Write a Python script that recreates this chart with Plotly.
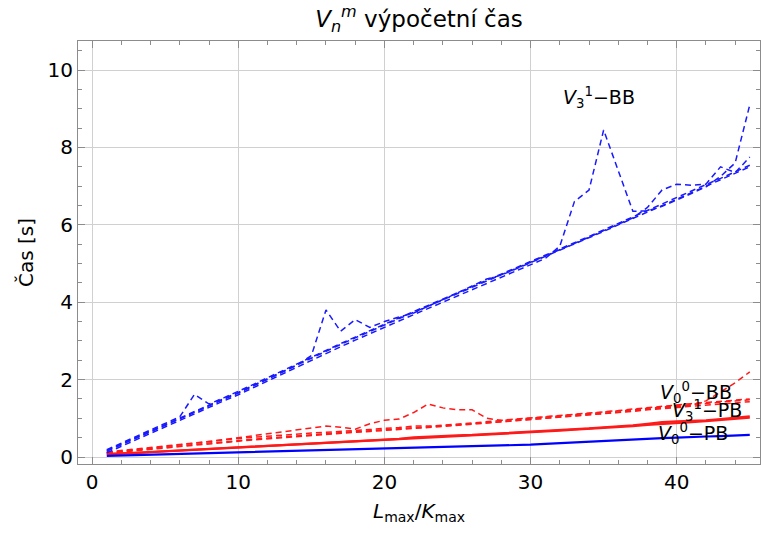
import plotly.graph_objects as go

x = list(range(1, 46))

# Blue dashed series (BB variants)
blue_d1 = [0.19, 0.36, 0.53, 0.70, 0.87, 1.04, 1.62, 1.37, 1.53, 1.69, 1.87, 2.05, 2.23, 2.41, 2.59,
           2.76, 2.93, 3.10, 3.27, 3.44, 3.60, 3.76, 3.92, 4.08, 4.24, 4.40, 4.56, 4.72, 4.88, 5.04,
           5.21, 5.37, 5.54, 5.70, 5.87, 6.04, 6.20, 6.37, 6.54, 6.70, 6.87, 7.04, 7.20, 7.37, 7.54]
blue_d2 = [0.15, 0.32, 0.49, 0.66, 0.83, 1.00, 1.16, 1.33, 1.49, 1.65, 1.83, 2.01, 2.19, 2.37, 2.62,
           3.80, 3.25, 3.55, 3.35, 3.50, 3.62, 3.72, 3.90, 4.06, 4.24, 4.42, 4.60, 4.70, 4.86, 5.01,
           5.17, 5.33, 5.50, 5.66, 5.83, 6.00, 6.16, 6.33, 6.50, 6.66, 6.83, 7.00, 7.16, 7.33, 7.50]
blue_d3 = [0.11, 0.28, 0.45, 0.62, 0.79, 0.96, 1.12, 1.29, 1.45, 1.61, 1.79, 1.97, 2.15, 2.33, 2.51,
           2.68, 2.85, 3.02, 3.19, 3.36, 3.52, 3.68, 3.84, 4.00, 4.16, 4.32, 4.48, 4.64, 4.80, 4.96,
           5.13, 5.45, 6.60, 6.90, 8.45, 7.40, 6.35, 6.36, 6.48, 6.64, 6.80, 6.98, 7.25, 7.60, 9.10]
blue_d4 = [0.17, 0.34, 0.51, 0.68, 0.85, 1.02, 1.18, 1.35, 1.51, 1.67, 1.85, 2.03, 2.21, 2.39, 2.57,
           2.74, 2.91, 3.08, 3.25, 3.42, 3.58, 3.74, 3.90, 4.06, 4.22, 4.38, 4.54, 4.70, 4.86, 5.02,
           5.19, 5.35, 5.52, 5.68, 5.85, 6.02, 6.18, 6.45, 6.90, 7.05, 7.02, 7.05, 7.50, 7.35, 7.75]

# Red dashed series
red_d1 = [0.10, 0.13, 0.16, 0.20, 0.23, 0.27, 0.30, 0.34, 0.37, 0.41, 0.44, 0.47, 0.50, 0.53, 0.56,
          0.59, 0.61, 0.64, 0.66, 0.69, 0.71, 0.74, 0.76, 0.79, 0.81, 0.84, 0.87, 0.90, 0.93, 0.96,
          0.99, 1.02, 1.05, 1.08, 1.11, 1.15, 1.18, 1.22, 1.25, 1.29, 1.32, 1.35, 1.38, 1.41, 1.43]
red_d2 = [0.13, 0.17, 0.21, 0.25, 0.29, 0.33, 0.37, 0.41, 0.45, 0.48, 0.51, 0.54, 0.57, 0.60, 0.62,
          0.64, 0.66, 0.68, 0.71, 0.74, 0.76, 0.80, 0.80, 0.82, 0.85, 0.88, 0.91, 0.94, 0.97, 1.00,
          1.03, 1.06, 1.09, 1.12, 1.15, 1.19, 1.22, 1.26, 1.29, 1.33, 1.36, 1.39, 1.42, 1.45, 1.48]
red_d3 = [0.12, 0.15, 0.19, 0.23, 0.27, 0.31, 0.35, 0.40, 0.45, 0.50, 0.55, 0.60, 0.66, 0.70, 0.75,
          0.80, 0.77, 0.72, 0.86, 0.95, 0.98, 1.15, 1.37, 1.27, 1.22, 1.22, 1.00, 0.95, 0.98, 1.01,
          1.04, 1.07, 1.10, 1.13, 1.16, 1.20, 1.24, 1.28, 1.31, 1.35, 1.38, 1.41, 1.44, 1.47, 1.50]
red_d4 = [0.11, 0.14, 0.18, 0.21, 0.25, 0.29, 0.32, 0.36, 0.39, 0.43, 0.46, 0.49, 0.52, 0.55, 0.58,
          0.61, 0.63, 0.66, 0.68, 0.71, 0.73, 0.76, 0.78, 0.81, 0.83, 0.86, 0.88, 0.91, 0.94, 0.97,
          1.00, 1.03, 1.06, 1.10, 1.13, 1.16, 1.20, 1.23, 1.27, 1.30, 1.34, 1.45, 1.68, 1.92, 2.20]

# Red solid series
red_s1 = [0.07, 0.09, 0.10, 0.12, 0.14, 0.16, 0.18, 0.20, 0.22, 0.24, 0.26, 0.27, 0.29, 0.31, 0.33,
          0.35, 0.37, 0.39, 0.41, 0.43, 0.45, 0.47, 0.49, 0.51, 0.53, 0.55, 0.57, 0.60, 0.62, 0.64,
          0.66, 0.68, 0.71, 0.73, 0.76, 0.78, 0.80, 0.83, 0.85, 0.88, 0.90, 0.93, 0.96, 0.99, 1.02]
red_s2 = [0.08, 0.09, 0.11, 0.13, 0.15, 0.17, 0.19, 0.21, 0.23, 0.25, 0.27, 0.28, 0.30, 0.32, 0.34,
          0.36, 0.38, 0.40, 0.42, 0.44, 0.47, 0.51, 0.53, 0.55, 0.56, 0.57, 0.59, 0.61, 0.63, 0.65,
          0.67, 0.69, 0.72, 0.74, 0.77, 0.79, 0.82, 0.86, 0.90, 0.92, 0.93, 0.95, 0.98, 1.01, 1.05]

# Blue solid series
blue_s = [0.03, 0.04, 0.05, 0.06, 0.07, 0.08, 0.09, 0.10, 0.11, 0.12, 0.13, 0.14, 0.14, 0.15, 0.16,
          0.17, 0.18, 0.19, 0.20, 0.21, 0.22, 0.23, 0.24, 0.25, 0.26, 0.27, 0.28, 0.29, 0.31, 0.32,
          0.34, 0.36, 0.38, 0.40, 0.42, 0.44, 0.46, 0.48, 0.49, 0.50, 0.52, 0.53, 0.54, 0.56, 0.57]

labels = ["<i>V</i><sub>3</sub><sup>1</sup>\u2212BB", "<i>V</i><sub>0</sub><sup>0</sup>\u2212BB",
          "<i>V</i><sub>3</sub><sup>1</sup>\u2212PB", "<i>V</i><sub>0</sub><sup>0</sup>\u2212PB"]
label_x = [34.7, 41.3, 42.1, 41.1]
label_y = [9.3, 1.68, 1.2, 0.62]

BLUE = "#1a1aff"
RED = "#ff1a1a"
FONT = "DejaVu Sans, Liberation Sans, Arial"
DASH = "6px,4px"

fig = go.Figure()
for ys in [red_d1, red_d2, red_d3, red_d4]:
    fig.add_trace(go.Scatter(x=x, y=ys, mode="lines",
                             line=dict(color=RED, width=1.5, dash=DASH)))
for ys in [red_s1, red_s2]:
    fig.add_trace(go.Scatter(x=x, y=ys, mode="lines", line=dict(color=RED, width=2.2)))
fig.add_trace(go.Scatter(x=x, y=blue_s, mode="lines", line=dict(color="#0000ff", width=2.2)))
for ys in [blue_d1, blue_d2, blue_d3, blue_d4]:
    fig.add_trace(go.Scatter(x=x, y=ys, mode="lines",
                             line=dict(color=BLUE, width=1.5, dash=DASH)))

for t, lx, ly in zip(labels, label_x, label_y):
    fig.add_annotation(x=lx, y=ly, text=t, showarrow=False,
                       font=dict(size=19, color="black", family=FONT))

axis_common = dict(
    showgrid=True, gridcolor="#d0d0d0", gridwidth=1,
    showline=True, linecolor="#8c8c8c", linewidth=1, mirror="allticks",
    ticks="inside", ticklen=7, tickcolor="#8c8c8c", tickwidth=1,
    zeroline=False,
    tickfont=dict(size=20, color="black", family=FONT),
)

fig.update_layout(
    width=761, height=537,
    margin=dict(l=78, r=1, t=41, b=73),
    paper_bgcolor="white", plot_bgcolor="white",
    showlegend=False,
    title=dict(text="<i>V</i><sub><i>n</i></sub><sup><i>m</i></sup> výpočetní čas",
               x=(78 + 760) / 2 / 761, xanchor="center", y=0.965, yanchor="middle",
               font=dict(size=23, color="black", family=FONT)),
    xaxis=dict(range=[-0.97, 45.7], tickvals=[0, 10, 20, 30, 40],
               minor=dict(dtick=2, tick0=0, ticks="inside", ticklen=4, tickcolor="#8c8c8c", showgrid=False),
               title=dict(text="<i>L</i><sub>max</sub>/<i>K</i><sub>max</sub>", standoff=10,
                          font=dict(size=20, color="black", family=FONT)),
               **axis_common),
    yaxis=dict(range=[-0.18, 10.75], tickvals=[0, 2, 4, 6, 8, 10],
               minor=dict(dtick=0.5, tick0=0, ticks="inside", ticklen=4, tickcolor="#8c8c8c", showgrid=False),
               title=dict(text="Čas [s]", standoff=8,
                          font=dict(size=20, color="black", family=FONT)),
               **axis_common),
)

fig.write_html("out.html")
